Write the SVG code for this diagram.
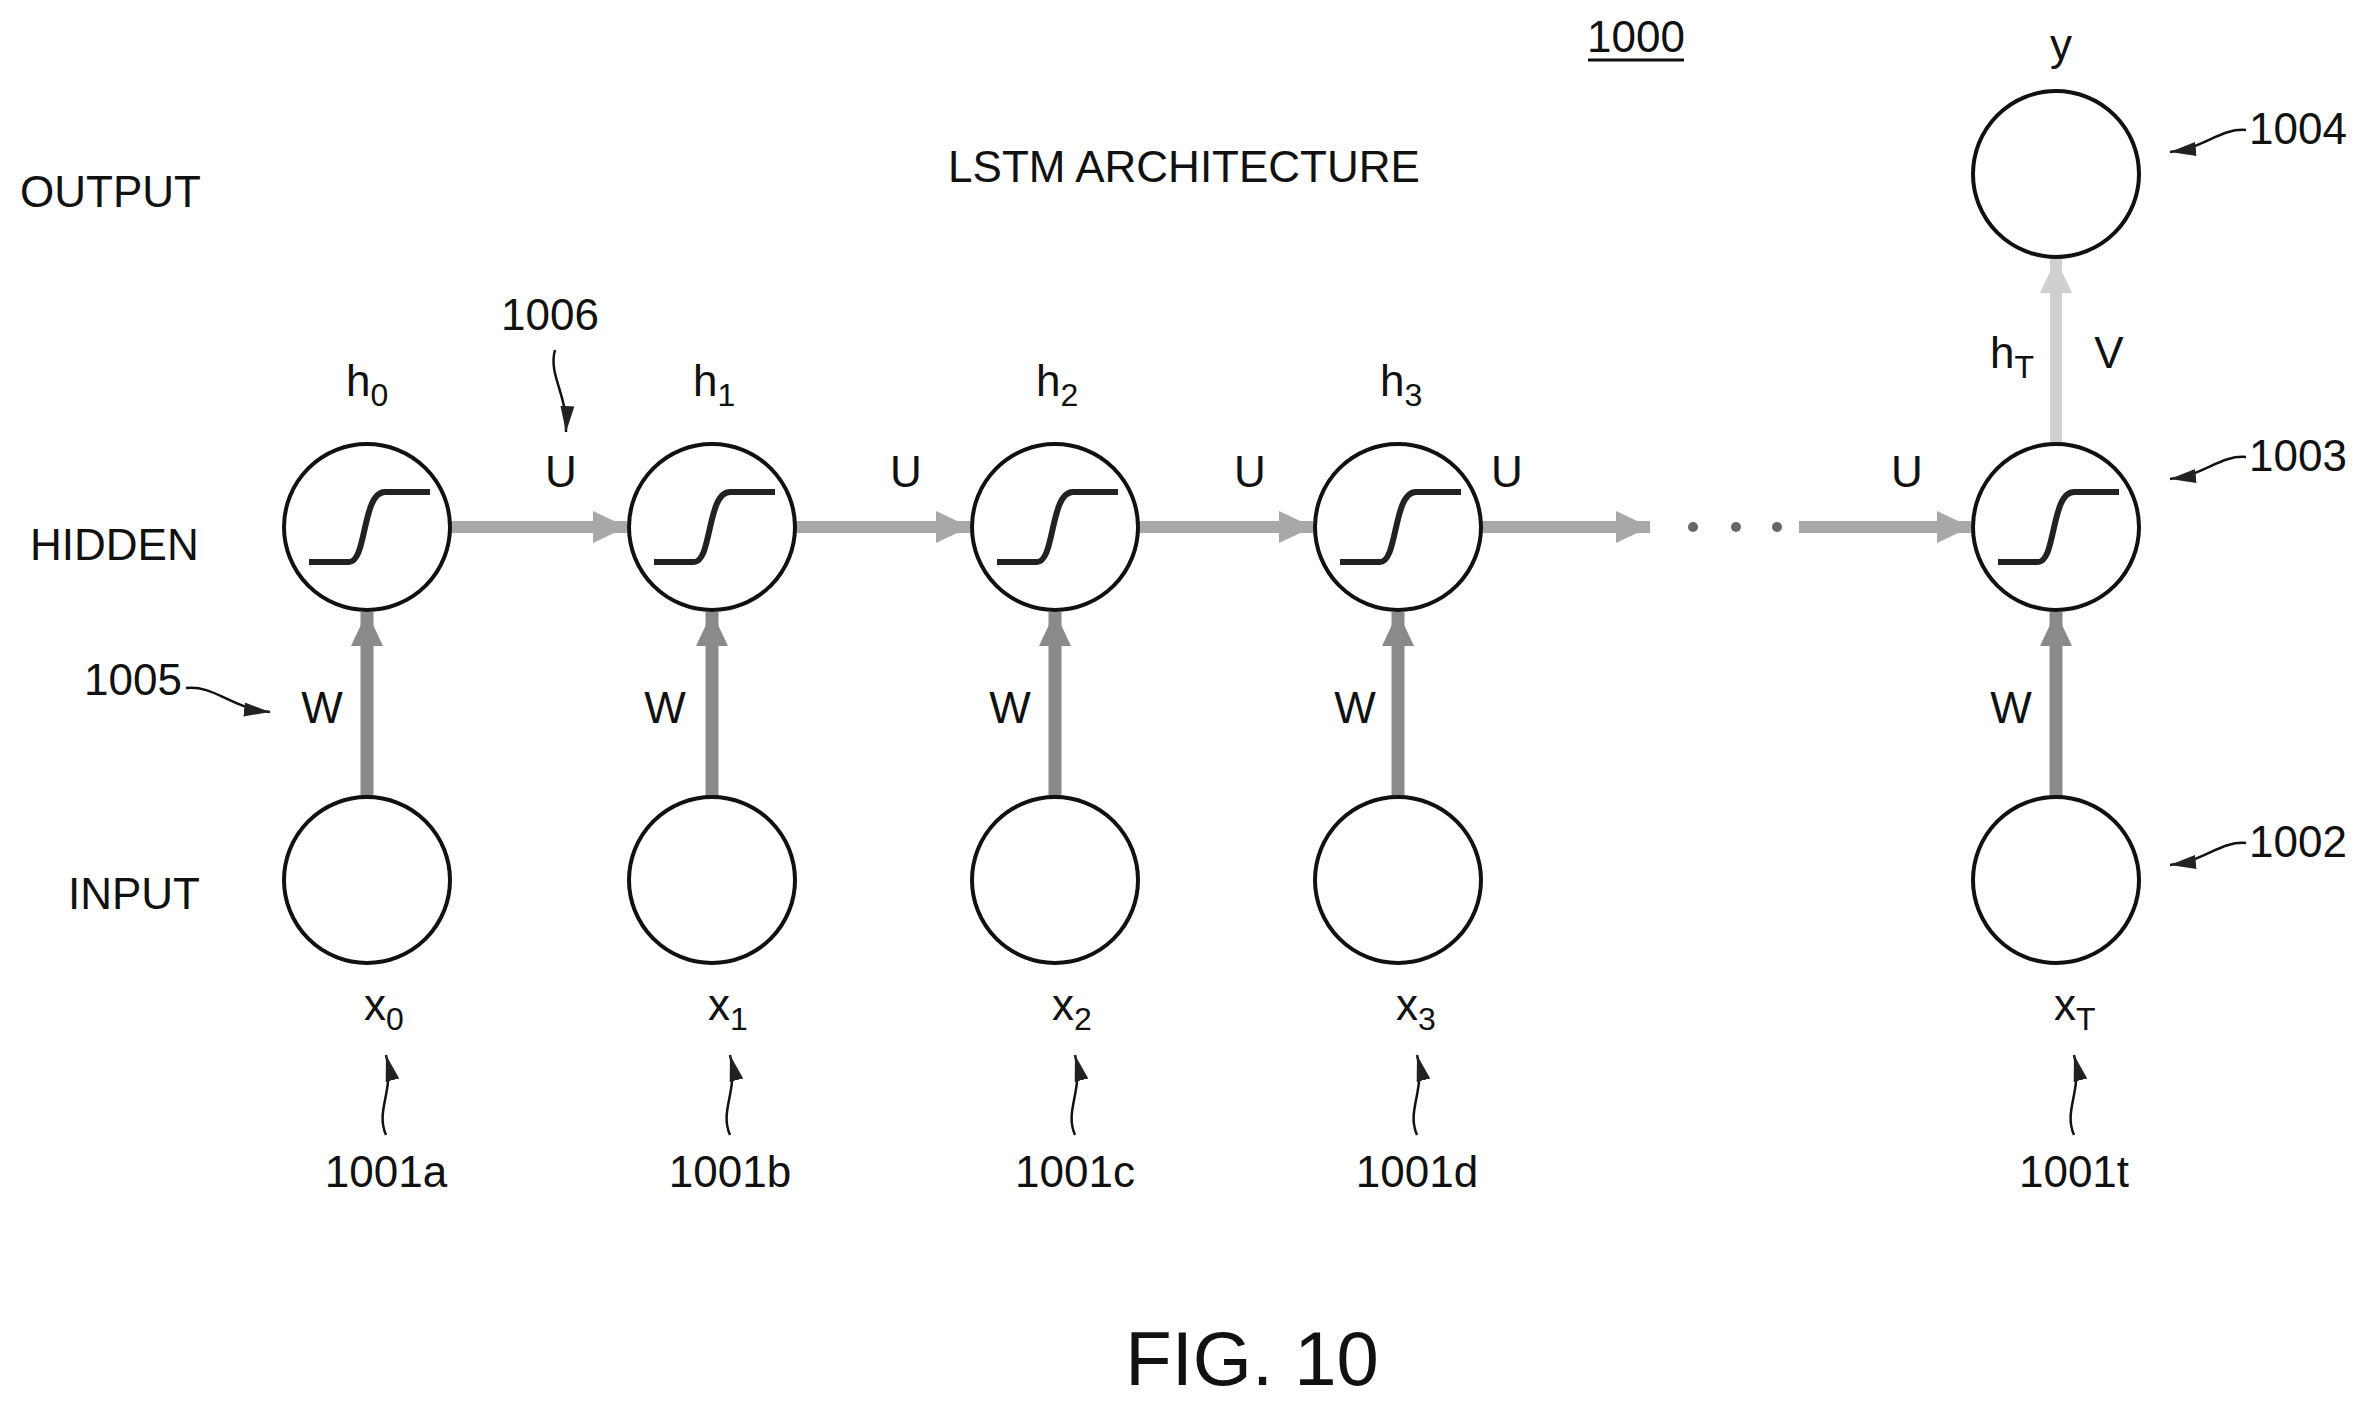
<svg xmlns="http://www.w3.org/2000/svg" width="2371" height="1410" viewBox="0 0 2371 1410">
<style>
text{font-family:"Liberation Sans",Arial,sans-serif;font-size:44px;fill:#111}
.sub{font-size:32px}
.c{text-anchor:middle}
.node{fill:#fff;stroke:#111;stroke-width:4}
.sig{fill:none;stroke:#222;stroke-width:6}
.w{stroke:#8a8a8a;stroke-width:13;fill:none}
.u{stroke:#a8a8a8;stroke-width:12;fill:none}
.v{stroke:#cfcfcf;stroke-width:12;fill:none}
.lead{fill:none;stroke:#111;stroke-width:2.5}
</style>
<defs>
<marker id="hw" markerUnits="userSpaceOnUse" markerWidth="40" markerHeight="40" refX="34" refY="20" orient="auto"><path d="M0,4 L34,20 L0,36 Z" fill="#8a8a8a"/></marker>
<marker id="hu" markerUnits="userSpaceOnUse" markerWidth="40" markerHeight="40" refX="34" refY="20" orient="auto"><path d="M0,4 L34,20 L0,36 Z" fill="#a8a8a8"/></marker>
<marker id="hv" markerUnits="userSpaceOnUse" markerWidth="40" markerHeight="40" refX="34" refY="20" orient="auto"><path d="M0,4 L34,20 L0,36 Z" fill="#cfcfcf"/></marker>
<marker id="hl" markerUnits="userSpaceOnUse" markerWidth="30" markerHeight="20" refX="26" refY="10" orient="auto"><path d="M0,3 L26,10 L0,17 Z" fill="#222"/></marker>
<path id="sg" class="sig" d="M-58,35 H-18 C0,35 -5,-35 18,-35 H63"/>
</defs>

<text x="1636" y="52" class="c">1000</text>
<line x1="1588" y1="60" x2="1684" y2="60" stroke="#111" stroke-width="3"/>
<text x="1184" y="182" class="c">LSTM ARCHITECTURE</text>
<text x="20" y="207">OUTPUT</text>
<text x="30" y="560">HIDDEN</text>
<text x="68" y="909">INPUT</text>
<text x="1252" y="1385" class="c" style="font-size:76px">FIG. 10</text>

<g id="connectors">
<line class="w" x1="367" y1="797" x2="367" y2="612" marker-end="url(#hw)"/>
<line class="w" x1="712" y1="797" x2="712" y2="612" marker-end="url(#hw)"/>
<line class="w" x1="1055" y1="797" x2="1055" y2="612" marker-end="url(#hw)"/>
<line class="w" x1="1398" y1="797" x2="1398" y2="612" marker-end="url(#hw)"/>
<line class="w" x1="2056" y1="797" x2="2056" y2="612" marker-end="url(#hw)"/>
<line class="u" x1="450" y1="527" x2="627" y2="527" marker-end="url(#hu)"/>
<line class="u" x1="795" y1="527" x2="970" y2="527" marker-end="url(#hu)"/>
<line class="u" x1="1138" y1="527" x2="1313" y2="527" marker-end="url(#hu)"/>
<line class="u" x1="1481" y1="527" x2="1650" y2="527" marker-end="url(#hu)"/>
<line class="u" x1="1799" y1="527" x2="1971" y2="527" marker-end="url(#hu)"/>
<line class="v" x1="2056" y1="444" x2="2056" y2="259" marker-end="url(#hv)"/>
<circle cx="1693" cy="527" r="5" fill="#666"/>
<circle cx="1736" cy="527" r="5" fill="#666"/>
<circle cx="1777" cy="527" r="5" fill="#666"/>
</g>

<g id="hidden0"><circle class="node" cx="367" cy="527" r="83"/><use href="#sg" x="367" y="527"/><text x="346" y="396">h<tspan class="sub" dy="10">0</tspan></text></g>
<g id="hidden1"><circle class="node" cx="712" cy="527" r="83"/><use href="#sg" x="712" y="527"/><text x="693" y="396">h<tspan class="sub" dy="10">1</tspan></text></g>
<g id="hidden2"><circle class="node" cx="1055" cy="527" r="83"/><use href="#sg" x="1055" y="527"/><text x="1036" y="396">h<tspan class="sub" dy="10">2</tspan></text></g>
<g id="hidden3"><circle class="node" cx="1398" cy="527" r="83"/><use href="#sg" x="1398" y="527"/><text x="1380" y="396">h<tspan class="sub" dy="10">3</tspan></text></g>
<g id="hiddenT"><circle class="node" cx="2056" cy="527" r="83"/><use href="#sg" x="2056" y="527"/></g>
<g id="output"><circle class="node" cx="2056" cy="174" r="83"/><text x="2061" y="60" class="c">y</text></g>

<g id="input0"><circle class="node" cx="367" cy="880" r="83"/><text x="364" y="1020">x<tspan class="sub" dy="10">0</tspan></text></g>
<g id="input1"><circle class="node" cx="712" cy="880" r="83"/><text x="708" y="1020">x<tspan class="sub" dy="10">1</tspan></text></g>
<g id="input2"><circle class="node" cx="1055" cy="880" r="83"/><text x="1052" y="1020">x<tspan class="sub" dy="10">2</tspan></text></g>
<g id="input3"><circle class="node" cx="1398" cy="880" r="83"/><text x="1396" y="1020">x<tspan class="sub" dy="10">3</tspan></text></g>
<g id="inputT"><circle class="node" cx="2056" cy="880" r="83"/><text x="2054" y="1020">x<tspan class="sub" dy="10">T</tspan></text></g>

<g id="weights">
<text x="561" y="487" class="c">U</text><text x="906" y="487" class="c">U</text><text x="1250" y="487" class="c">U</text><text x="1507" y="487" class="c">U</text><text x="1907" y="487" class="c">U</text>
<text x="322" y="723" class="c">W</text><text x="665" y="723" class="c">W</text><text x="1010" y="723" class="c">W</text><text x="1355" y="723" class="c">W</text><text x="2011" y="723" class="c">W</text>
<text x="1990" y="368">h<tspan class="sub" dy="10">T</tspan></text>
<text x="2109" y="368" class="c">V</text>
</g>

<g id="refs">
<text x="550" y="330" class="c">1006</text>
<path class="lead" d="M555,350 C548,375 568,395 566,432" marker-end="url(#hl)"/>
<text x="133" y="695" class="c">1005</text>
<path class="lead" d="M186,688 C215,685 230,708 270,712" marker-end="url(#hl)"/>
<text x="2298" y="144" class="c">1004</text>
<path class="lead" d="M2246,130 C2220,128 2205,148 2170,152" marker-end="url(#hl)"/>
<text x="2298" y="471" class="c">1003</text>
<path class="lead" d="M2246,457 C2220,455 2205,475 2170,479" marker-end="url(#hl)"/>
<text x="2298" y="857" class="c">1002</text>
<path class="lead" d="M2246,843 C2220,841 2205,861 2170,865" marker-end="url(#hl)"/>
<text x="386" y="1187" class="c">1001a</text>
<path class="lead" d="M386,1135 C375,1110 395,1090 386,1055" marker-end="url(#hl)"/>
<text x="730" y="1187" class="c">1001b</text>
<path class="lead" d="M730,1135 C719,1110 739,1090 730,1055" marker-end="url(#hl)"/>
<text x="1075" y="1187" class="c">1001c</text>
<path class="lead" d="M1075,1135 C1064,1110 1084,1090 1075,1055" marker-end="url(#hl)"/>
<text x="1417" y="1187" class="c">1001d</text>
<path class="lead" d="M1417,1135 C1406,1110 1426,1090 1417,1055" marker-end="url(#hl)"/>
<text x="2074" y="1187" class="c">1001t</text>
<path class="lead" d="M2074,1135 C2063,1110 2083,1090 2074,1055" marker-end="url(#hl)"/>
</g>
</svg>
